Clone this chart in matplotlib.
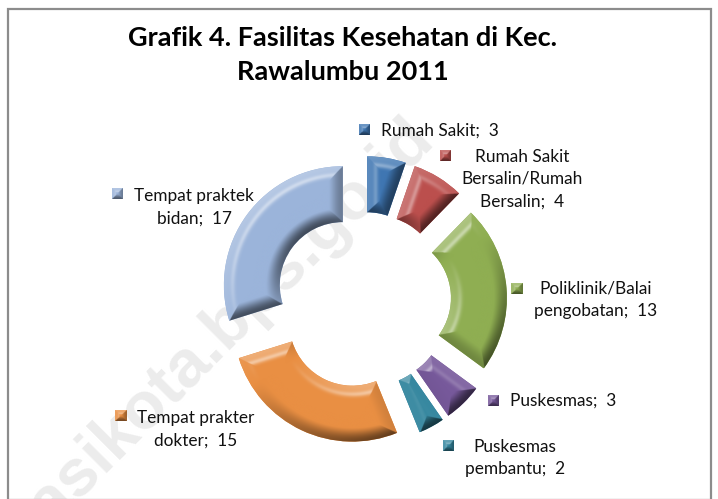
import numpy as np
import matplotlib
matplotlib.use("Agg")
import matplotlib.pyplot as plt
from matplotlib.patches import Rectangle

# ---- data ----
title = "Grafik 4. Fasilitas Kesehatan di Kec.\nRawalumbu 2011"
categories = ["Rumah Sakit", "Rumah Sakit\nBersalin/Rumah\nBersalin", "Poliklinik/Balai\npengobatan",
              "Puskesmas", "Puskesmas\npembantu", "Tempat prakter\ndokter", "Tempat praktek\nbidan"]
values = [3, 4, 13, 3, 2, 15, 17]
colors = ["#3f76b2", "#bb4f4d", "#8fae52", "#77599b", "#35879f", "#e98f43", "#9bb4da"]
watermark = "bekasikota.bps.go.id"

# ---- layout (pixels) ----
W, H = 718, 499
CX, CY, R_PX = 363, 300, 119
label_xy = [(381, 131, "left"), (522, 179, "center"), (596, 300, "center"), (510, 401, "left"),
            (515, 458, "center"), (196, 429, "center"), (194, 207, "center")]
marker_xy = [(365, 130), (446, 156), (517, 289), (494, 401), (449, 446), (121, 416), (118, 194)]

plt.rcParams["font.family"] = ["Lato", "DejaVu Sans"]
fig = plt.figure(figsize=(W / 100, H / 100), dpi=100, facecolor="white")
ax = fig.add_axes([0, 0, 1, 1])

def fx(x): return x / W
def fy(y): return 1 - y / H
def d(x, y): return (x - CX) / R_PX, (CY - y) / R_PX

LIGHT = np.array([-0.5, 0.8])

def shade(base, dists, nx, ny, bevel):
    """dists / normals: lists of arrays; mitred bevel with a light from upper left."""
    dists = np.stack(dists)
    idx = np.argmin(dists, axis=0)
    dmin = np.take_along_axis(dists, idx[None], 0)[0]
    n_x = np.take_along_axis(np.stack(nx), idx[None], 0)[0]
    n_y = np.take_along_axis(np.stack(ny), idx[None], 0)[0]
    t = np.clip(dmin / bevel, 0, 1)
    slope = np.cos(t * np.pi / 2) ** 1.3
    s = slope * (n_x * LIGHT[0] + n_y * LIGHT[1])
    rgb = np.array(matplotlib.colors.to_rgb(base))
    img = np.ones(s.shape + (3,)) * rgb
    up = np.clip(s, 0, 1)[..., None]
    dn = np.clip(-s, 0, 1)[..., None]
    glint = (np.exp(-((t - 0.6) / 0.16) ** 2) * np.clip(n_x * LIGHT[0] + n_y * LIGHT[1], 0, 1))[..., None]
    img = img + (1 - img) * np.clip(up * 0.3 + glint * 0.4, 0, 1)
    img = img * (1 - dn * 0.62)
    return np.clip(img, 0, 1)

ax.add_patch(Rectangle((fx(8), fy(500)), fx(703), fy(9) - fy(500), transform=ax.transAxes,
                       fill=False, ec="#8c8c8c", lw=1.6, zorder=1))
ax.text(fx(436), fy(140), watermark, transform=ax.transAxes, rotation=45, rotation_mode="anchor",
        ha="right", va="baseline", fontsize=48, fontweight="bold", color="#ececec",
        family="Liberation Sans", zorder=0)

wedges, _ = ax.pie(values, explode=[0.21] * len(values), startangle=90, counterclock=False,
                   colors=colors, radius=1, wedgeprops=dict(width=0.47, lw=0), frame=False)

for w, col in zip(wedges, colors):
    bb = w.get_path().get_extents(w.get_patch_transform())
    gx, gy = np.meshgrid(np.linspace(bb.x0, bb.x1, 500), np.linspace(bb.y0, bb.y1, 500))
    dx, dy = gx - w.center[0], gy - w.center[1]
    rho = np.hypot(dx, dy) + 1e-9
    th = np.degrees(np.arctan2(dy, dx))
    mid = (w.theta1 + w.theta2) / 2
    th = (th - mid + 180) % 360 - 180 + mid
    a1, a2 = np.radians(th - w.theta1), np.radians(w.theta2 - th)
    ux, uy = dx / rho, dy / rho
    dists = [w.r - rho, rho - (w.r - w.width), rho * np.sin(np.clip(a1, 0, None)), rho * np.sin(np.clip(a2, 0, None))]
    t1, t2 = np.radians(w.theta1), np.radians(w.theta2)
    nx = [ux, -ux, np.full_like(ux, np.sin(t1)), np.full_like(ux, -np.sin(t2))]
    ny = [uy, -uy, np.full_like(ux, -np.cos(t1)), np.full_like(ux, np.cos(t2))]
    img = shade(col, dists, nx, ny, 0.12)
    im = ax.imshow(img, origin="lower", extent=(bb.x0, bb.x1, bb.y0, bb.y1), zorder=3,
                   interpolation="bilinear", aspect="equal")
    im.set_clip_path(w)

# legend keys
S = 5.5
for (mx, my), col in zip(marker_xy, colors):
    x0, y1 = d(mx - S, my - S)
    x1, y0 = d(mx + S, my + S)
    gx, gy = np.meshgrid(np.linspace(x0, x1, 40), np.linspace(y0, y1, 40))
    zero = np.zeros_like(gx)
    one = np.ones_like(gx)
    img = shade(col, [x1 - gx, gx - x0, y1 - gy, gy - y0], [one, -one, zero, zero], [zero, zero, one, -one], (x1 - x0) / 2)
    ax.imshow(img, origin="lower", extent=(x0, x1, y0, y1), zorder=3, interpolation="bilinear", aspect="equal")

ax.set_xlim(-CX / R_PX, (W - CX) / R_PX)
ax.set_ylim(-(H - CY) / R_PX, CY / R_PX)
ax.axis("off")

for name, val, (x, y, ha) in zip(categories, values, label_xy):
    fig.text(fx(x), fy(y), f"{name};  {val}", ha=ha, va="center", ma="center",
             fontsize=12.4, color="#111111", linespacing=1.5, zorder=5)

fig.text(fx(342.5), fy(55), title, ha="center", va="center", ma="center", fontsize=19.5,
         fontweight="bold", color="black", linespacing=1.47, zorder=5)

fig.savefig("out.png", dpi=100, facecolor="white")
